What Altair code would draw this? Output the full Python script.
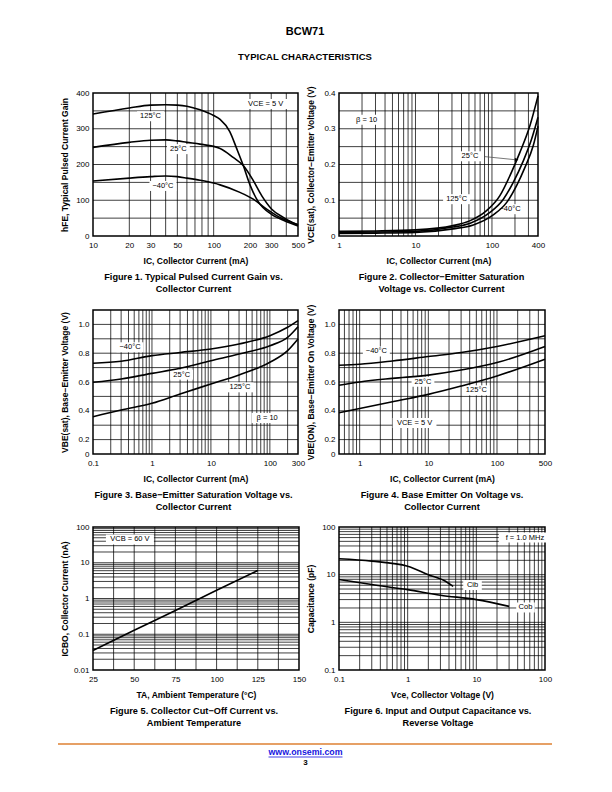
import altair as alt
import pandas as pd

FONT = "Liberation Sans"
INK = "#000000"
ORANGE = "#DE8032"
LINK = "#1515E0"

# ---------------- Figure 1: hFE vs IC ----------------
f1_ic_125 = [10, 20, 30, 40, 50, 60, 77, 100, 113, 136, 155, 176, 200, 234, 303, 378, 500]
f1_hfe_125 = [341, 358, 366, 367, 366, 363, 353, 337, 326, 292, 245, 197, 143, 96, 60, 44, 28]
f1_ic_25 = [10, 20, 30, 40, 50, 60, 77, 113, 145, 176, 213, 250, 303, 378, 500]
f1_hfe_25 = [248, 262, 268, 269, 266, 262, 257, 245, 220, 197, 155, 113, 75, 52, 30]
f1_ic_m40 = [10, 20, 30, 40, 50, 60, 77, 100, 113, 165, 213, 275, 354, 500]
f1_hfe_m40 = [154, 162, 166, 168, 166, 162, 156, 148, 143, 122, 103, 75, 52, 32]
f1_label_text = ["125°C", "25°C", "−40°C", "VCE = 5 V"]
f1_label_x = [30, 51, 38, 270]
f1_label_y = [335, 243, 140, 369]
f1_x_ticks = [10, 20, 30, 50, 100, 200, 300, 500]
f1_y_ticks = [0, 100, 200, 300, 400]
f1_x_grid = [20, 30, 40, 50, 60, 70, 80, 90, 100, 200, 300, 400]
f1_y_grid = [50, 100, 150, 200, 250, 300, 350]

# ---------------- Figure 2: VCE(sat) vs IC ----------------
f2_ic_25 = [1, 3, 10, 31, 52, 85, 127, 172, 232, 314, 400]
f2_v_25 = [0.013, 0.014, 0.017, 0.029, 0.043, 0.071, 0.113, 0.169, 0.234, 0.309, 0.392]
f2_ic_125 = [1, 3, 10, 31, 52, 94, 141, 190, 257, 330, 400]
f2_v_125 = [0.010, 0.011, 0.013, 0.025, 0.036, 0.066, 0.103, 0.150, 0.210, 0.271, 0.332]
f2_ic_m40 = [1, 3, 10, 31, 57, 104, 156, 210, 270, 347, 400]
f2_v_m40 = [0.007, 0.008, 0.010, 0.020, 0.031, 0.059, 0.094, 0.141, 0.192, 0.253, 0.307]
f2_label_text = ["β = 10", "25°C", "125°C", "−40°C"]
f2_label_x = [2.3, 51.5, 34.5, 172]
f2_label_y = [0.325, 0.223, 0.103, 0.075]
f2_arrow_x = [81, 210]
f2_arrow_y = [0.222, 0.213]
f2_x_ticks = [1, 10, 100, 400]
f2_y_ticks = [0, 0.1, 0.2, 0.3, 0.4]
f2_x_grid = [2, 3, 4, 5, 6, 7, 8, 9, 10, 20, 30, 40, 50, 60, 70, 80, 90, 100, 200, 300]
f2_y_grid = [0.05, 0.1, 0.15, 0.2, 0.25, 0.3, 0.35]

# ---------------- Figure 3: VBE(sat) vs IC ----------------
f3_ic = [0.1, 0.3, 1, 3, 10, 30, 100, 200, 300]
f3_v_m40 = [0.730, 0.744, 0.783, 0.805, 0.829, 0.864, 0.922, 0.980, 1.026]
f3_v_25 = [0.598, 0.621, 0.660, 0.695, 0.748, 0.794, 0.852, 0.910, 0.984]
f3_v_125 = [0.359, 0.406, 0.452, 0.517, 0.586, 0.649, 0.737, 0.818, 0.899]
f3_label_text = ["−40°C", "25°C", "125°C", "β = 10"]
f3_label_x = [0.424, 3.19, 31.1, 90]
f3_label_y = [0.841, 0.651, 0.563, 0.35]
f3_x_ticks = [0.1, 1, 10, 100, 300]
f3_y_ticks = [0.1, 0.2, 0.4, 0.6, 0.8, 1.0]
f3_x_grid = [0.2, 0.3, 0.4, 0.5, 0.6, 0.7, 0.8, 0.9, 1, 2, 3, 4, 5, 6, 7, 8, 9,
             10, 20, 30, 40, 50, 60, 70, 80, 90, 100, 200]
f3_y_grid = [0.2, 0.3, 0.4, 0.5, 0.6, 0.7, 0.8, 0.9, 1.0]

# ---------------- Figure 4: VBE(on) vs IC ----------------
f4_ic = [0.5, 1, 3, 10, 30, 100, 500]
f4_v_m40 = [0.716, 0.723, 0.746, 0.777, 0.805, 0.847, 0.921]
f4_v_25 = [0.577, 0.600, 0.625, 0.648, 0.683, 0.735, 0.847]
f4_v_125 = [0.386, 0.416, 0.463, 0.514, 0.572, 0.642, 0.758]
f4_label_text = ["−40°C", "25°C", "125°C", "VCE = 5 V"]
f4_label_x = [1.75, 8.35, 50, 6.3]
f4_label_y = [0.812, 0.602, 0.542, 0.316]
f4_x_ticks = [1, 10, 100, 500]
f4_y_ticks = [0.1, 0.2, 0.4, 0.6, 0.8, 1.0]
f4_x_grid = [0.6, 0.7, 0.8, 0.9, 1, 2, 3, 4, 5, 6, 7, 8, 9,
             10, 20, 30, 40, 50, 60, 70, 80, 90, 100, 200, 300, 400]
f4_y_grid = [0.2, 0.3, 0.4, 0.5, 0.6, 0.7, 0.8, 0.9, 1.0]

# ---------------- Figure 5: ICBO vs TA ----------------
f5_ta = [25, 50, 75, 100, 125]
f5_icbo = [0.035, 0.13, 0.46, 1.7, 6.1]
f5_label_text = ["VCB = 60 V"]
f5_label_x = [47.4]
f5_label_y = [45]
f5_x_ticks = [25, 50, 75, 100, 125, 150]
f5_y_ticks = [0.01, 0.1, 1, 10, 100]
f5_x_grid = [37.5, 50, 62.5, 75, 87.5, 100, 112.5, 125, 137.5]
f5_y_grid = [0.02, 0.03, 0.04, 0.05, 0.06, 0.07, 0.08, 0.09,
             0.1, 0.2, 0.3, 0.4, 0.5, 0.6, 0.7, 0.8, 0.9,
             1, 2, 3, 4, 5, 6, 7, 8, 9,
             10, 20, 30, 40, 50, 60, 70, 80, 90]

# ---------------- Figure 6: Capacitance vs voltage ----------------
f6_v_cib = [0.1, 0.3, 1, 2, 3.6, 4.6]
f6_c_cib = [21.5, 19.2, 15, 10, 7.2, 5.7]
f6_v_cob = [0.1, 0.3, 1, 3, 10, 30]
f6_c_cob = [7.9, 6.2, 4.85, 3.7, 3.0, 2.16]
f6_label_text = ["f = 1.0 MHz", "Cib", "Cob"]
f6_label_x = [51, 8.8, 52]
f6_label_y = [60, 6.1, 2.05]
f6_x_ticks = [0.1, 1, 10, 100]
f6_y_ticks = [0.1, 1, 10, 100]
f6_x_grid = [0.2, 0.3, 0.4, 0.5, 0.6, 0.7, 0.8, 0.9, 1, 2, 3, 4, 5, 6, 7, 8, 9,
             10, 20, 30, 40, 50, 60, 70, 80, 90]
f6_y_grid = [0.2, 0.3, 0.4, 0.5, 0.6, 0.7, 0.8, 0.9, 1, 2, 3, 4, 5, 6, 7, 8, 9,
             10, 20, 30, 40, 50, 60, 70, 80, 90]


def box_w(t):
    return 4.2 * len(t) + 6


def x_axis(values, title, fmt="~g"):
    return alt.Axis(values=values, format=fmt, title=title, labelFlush=False,
                    labelOverlap=False, titleY=24, titleBaseline="middle", labelPadding=5)


def y_axis(values, title, fmt=None, expr=None):
    kw = dict(values=values, title=title, titleX=-29, titleBaseline="middle",
              labelOverlap=False)
    if fmt is not None:
        kw["format"] = fmt
    if expr is not None:
        kw["labelExpr"] = expr
    return alt.Axis(**kw)


def one_row():
    return pd.DataFrame({"k": [0]})


def panel(curves, labels, xscale, yscale, x_grid, y_grid, xax, yax, width, height,
          caption, cap_dx=0, extra=None):
    def X(f):
        return alt.X(f, scale=xscale, axis=xax)

    def Y(f):
        return alt.Y(f, scale=yscale, axis=yax)

    layers = [
        alt.Chart(pd.DataFrame({"gx": x_grid})).mark_rule(color=INK, strokeWidth=0.75)
        .encode(x=X("gx:Q")),
        alt.Chart(pd.DataFrame({"gy": y_grid})).mark_rule(color=INK, strokeWidth=0.75)
        .encode(y=Y("gy:Q")),
    ]
    texts, lxs, lys = labels
    for t, lx, ly in zip(texts, lxs, lys):
        layers.append(
            alt.Chart(pd.DataFrame({"lx": [lx], "ly": [ly]}))
            .mark_rect(color="white", width=box_w(t), height=10)
            .encode(x=X("lx:Q"), y=Y("ly:Q"))
        )
    rows = []
    for name, xs, ys in curves:
        for a, b in zip(xs, ys):
            rows.append({"series": name, "cx": a, "cy": b})
    layers.append(
        alt.Chart(pd.DataFrame(rows))
        .mark_line(color=INK, strokeWidth=1.6, interpolate="monotone")
        .encode(x=X("cx:Q"), y=Y("cy:Q"), detail="series:N")
    )
    if extra is not None:
        layers += extra(X, Y)
    layers.append(
        alt.Chart(pd.DataFrame({"t": texts, "lx": lxs, "ly": lys}))
        .mark_text(font=FONT, fontSize=7.5, color=INK, align="center", baseline="middle")
        .encode(x=X("lx:Q"), y=Y("ly:Q"), text="t:N")
    )
    # figure caption (two centred bold lines below the x-axis title)
    for i, line in enumerate(caption):
        layers.append(
            alt.Chart(one_row())
            .mark_text(font=FONT, fontSize=9.2, fontWeight="bold", color=INK,
                       align="center", baseline="middle")
            .encode(x=alt.value(width / 2 + cap_dx), y=alt.value(height + 41 + 12 * i),
                    text=alt.value(line))
        )
    return alt.layer(*layers).properties(width=width, height=height)


def arrow_layers(X, Y):
    d = pd.DataFrame({"ax": f2_arrow_x, "ay": f2_arrow_y})
    return [
        alt.Chart(d).mark_line(color="#555555", strokeWidth=0.8)
        .encode(x=X("ax:Q"), y=Y("ay:Q")),
        alt.Chart(d.iloc[[1]]).mark_point(shape="triangle-right", filled=True, size=18,
                                          color=INK, opacity=1)
        .encode(x=X("ax:Q"), y=Y("ay:Q")),
    ]


def footer_layers(X, Y):
    return [
        alt.Chart(one_row()).mark_rule(color=ORANGE, strokeWidth=1.6)
        .encode(x=alt.value(-35), x2=alt.value(459), y=alt.value(217)),
        alt.Chart(one_row()).mark_text(font=FONT, fontSize=8.8, fontWeight="bold", color=LINK,
                                       baseline="middle")
        .encode(x=alt.value(212.5), y=alt.value(225), text=alt.value("www.onsemi.com")),
        alt.Chart(one_row()).mark_rule(color=LINK, strokeWidth=0.8)
        .encode(x=alt.value(175.5), x2=alt.value(249.5), y=alt.value(230)),
        alt.Chart(one_row()).mark_text(font=FONT, fontSize=8, fontWeight="bold", color=INK,
                                       baseline="middle")
        .encode(x=alt.value(212.5), y=alt.value(236), text=alt.value("3")),
    ]


def lin(d):
    return alt.Scale(type="linear", domain=d, nice=False, zero=False)


def lg(d):
    return alt.Scale(type="log", domain=d, nice=False)


IC_TITLE = "IC, Collector Current (mA)"

p1 = panel(
    [("125", f1_ic_125, f1_hfe_125), ("25", f1_ic_25, f1_hfe_25), ("-40", f1_ic_m40, f1_hfe_m40)],
    (f1_label_text, f1_label_x, f1_label_y),
    lg([10, 500]), lin([0, 400]), f1_x_grid, f1_y_grid,
    x_axis(f1_x_ticks, IC_TITLE),
    y_axis(f1_y_ticks, "hFE, Typical Pulsed Current Gain", fmt="d"),
    205, 143, ["Figure 1. Typical Pulsed Current Gain vs.", "Collector Current"], -2)

p2 = panel(
    [("25", f2_ic_25, f2_v_25), ("125", f2_ic_125, f2_v_125), ("-40", f2_ic_m40, f2_v_m40)],
    (f2_label_text, f2_label_x, f2_label_y),
    lg([1, 400]), lin([0, 0.4]), f2_x_grid, f2_y_grid,
    x_axis(f2_x_ticks, IC_TITLE),
    y_axis(f2_y_ticks, "VCE(sat), Collector−Emitter Voltage (V)",
           expr="datum.value == 0 ? '0' : format(datum.value, '.1f')"),
    199, 143, ["Figure 2. Collector−Emitter Saturation", "Voltage vs. Collector Current"], 3,
    extra=arrow_layers)

p3 = panel(
    [("-40", f3_ic, f3_v_m40), ("25", f3_ic, f3_v_25), ("125", f3_ic, f3_v_125)],
    (f3_label_text, f3_label_x, f3_label_y),
    lg([0.1, 300]), lin([0.1, 1.1]), f3_x_grid, f3_y_grid,
    x_axis(f3_x_ticks, IC_TITLE),
    y_axis(f3_y_ticks, "VBE(sat), Base−Emitter Voltage (V)",
           expr="datum.value < 0.15 ? '0' : format(datum.value, '.1f')"),
    205, 144, ["Figure 3. Base−Emitter Saturation Voltage vs.", "Collector Current"], -2)

p4 = panel(
    [("-40", f4_ic, f4_v_m40), ("25", f4_ic, f4_v_25), ("125", f4_ic, f4_v_125)],
    (f4_label_text, f4_label_x, f4_label_y),
    lg([0.5, 500]), lin([0.1, 1.1]), f4_x_grid, f4_y_grid,
    x_axis(f4_x_ticks, IC_TITLE),
    y_axis(f4_y_ticks, "VBE(ON), Base−Emitter On Voltage (V)",
           expr="datum.value < 0.15 ? '0' : format(datum.value, '.1f')"),
    206, 144, ["Figure 4. Base Emitter On Voltage vs.", "Collector Current"], 0)

p5 = panel(
    [("icbo", f5_ta, f5_icbo)],
    (f5_label_text, f5_label_x, f5_label_y),
    lin([25, 150]), lg([0.01, 100]), f5_x_grid, f5_y_grid,
    x_axis(f5_x_ticks, "TA, Ambient Temperature (°C)", fmt="d"),
    y_axis(f5_y_ticks, "ICBO, Collector Current (nA)", fmt="~g"),
    206, 143, ["Figure 5. Collector Cut−Off Current vs.", "Ambient Temperature"], -2,
    extra=footer_layers)

p6 = panel(
    [("cib", f6_v_cib, f6_c_cib), ("cob", f6_v_cob, f6_c_cob)],
    (f6_label_text, f6_label_x, f6_label_y),
    lg([0.1, 100]), lg([0.1, 100]), f6_x_grid, f6_y_grid,
    x_axis(f6_x_ticks, "Vce, Collector Voltage (V)"),
    y_axis(f6_y_ticks, "Capacitance (pF)", fmt="~g"),
    206, 143, ["Figure 6. Input and Output Capacitance vs.", "Reverse Voltage"], -4)

chart = alt.concat(
    p1, p2, p3, p4, p5, p6,
    columns=2, spacing={"row": 73, "column": 40}, bounds="flush", align="all",
).properties(
    title=alt.TitleParams("BCW71", subtitle="TYPICAL CHARACTERISTICS", anchor="middle",
                          frame="bounds", font=FONT, fontSize=11, fontWeight="bold", color=INK,
                          subtitleFont=FONT, subtitleFontSize=9.5, subtitleFontWeight="bold",
                          subtitleColor=INK, subtitlePadding=15, offset=24),
    padding={"left": 48, "top": 17, "right": 5, "bottom": 5},
    background="white",
).configure_view(
    stroke=INK, strokeWidth=1.5
).configure_axis(
    labelFont=FONT, titleFont=FONT, labelFontSize=8, titleFontSize=8.5,
    titleFontWeight="bold", labelColor=INK, titleColor=INK, ticks=False,
    domain=False, grid=False, labelPadding=4,
)

chart.save("out.html", embed_options={"renderer": "svg", "actions": False})
